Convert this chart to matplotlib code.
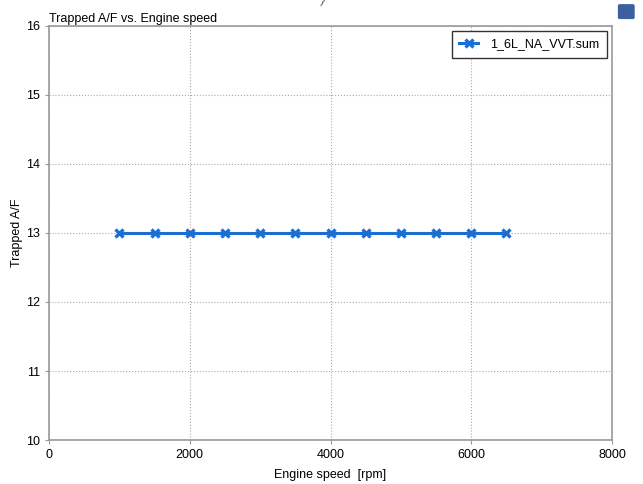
import numpy as np
import matplotlib.pyplot as plt
from matplotlib.patches import FancyBboxPatch

plt.rcParams['font.family'] = ['Liberation Sans', 'DejaVu Sans']

# data
speed = [1000, 1500, 2000, 2500, 3000, 3500, 4000, 4500, 5000, 5500, 6000, 6500]
afr = [13, 13, 13, 13, 13, 13, 13, 13, 13, 13, 13, 13]
series_name = '1_6L_NA_VVT.sum'

fig = plt.figure(figsize=(6.43, 4.84), dpi=100)
ax = fig.add_axes([0.0762, 0.0909, 0.8756, 0.8554])

ax.plot(speed, afr, color='#1c6fd1', lw=2.2, marker='x', ms=6, mew=2.4, label=series_name)

ax.set_xlim(0, 8000)
ax.set_ylim(10, 16)
ax.set_xticks([0, 2000, 4000, 6000, 8000])
ax.set_yticks([10, 11, 12, 13, 14, 15, 16])
ax.grid(True, ls=':', color='#aaaaaa', lw=0.8)
for sp in ax.spines.values():
    sp.set_color('#999999')
    sp.set_linewidth(1.2)
ax.tick_params(labelsize=9, length=3, color='#999999')

ax.set_xlabel('Engine speed  [rpm]', fontsize=9, labelpad=6)
ax.set_ylabel('Trapped A/F', fontsize=9, labelpad=2)
ax.set_title('Trapped A/F vs. Engine speed', fontsize=9, loc='left', pad=3)

leg = ax.legend(loc='upper right', fontsize=9, fancybox=False, framealpha=1,
                handlelength=1.5, handletextpad=1.0, borderpad=0.6, borderaxespad=0.4)
leg.get_frame().set_edgecolor('#333333')

# small artefacts in the screenshot
fig.text(0.501, 0.992, '/', fontsize=8, rotation=-15, color='#333333', ha='center', va='center')
fig.patches.append(FancyBboxPatch((0.964, 0.964), 0.02, 0.024, boxstyle='round,pad=0.002',
                                  transform=fig.transFigure, color='#3c5fa0', clip_on=False))

fig.savefig('out.png', dpi=100)
